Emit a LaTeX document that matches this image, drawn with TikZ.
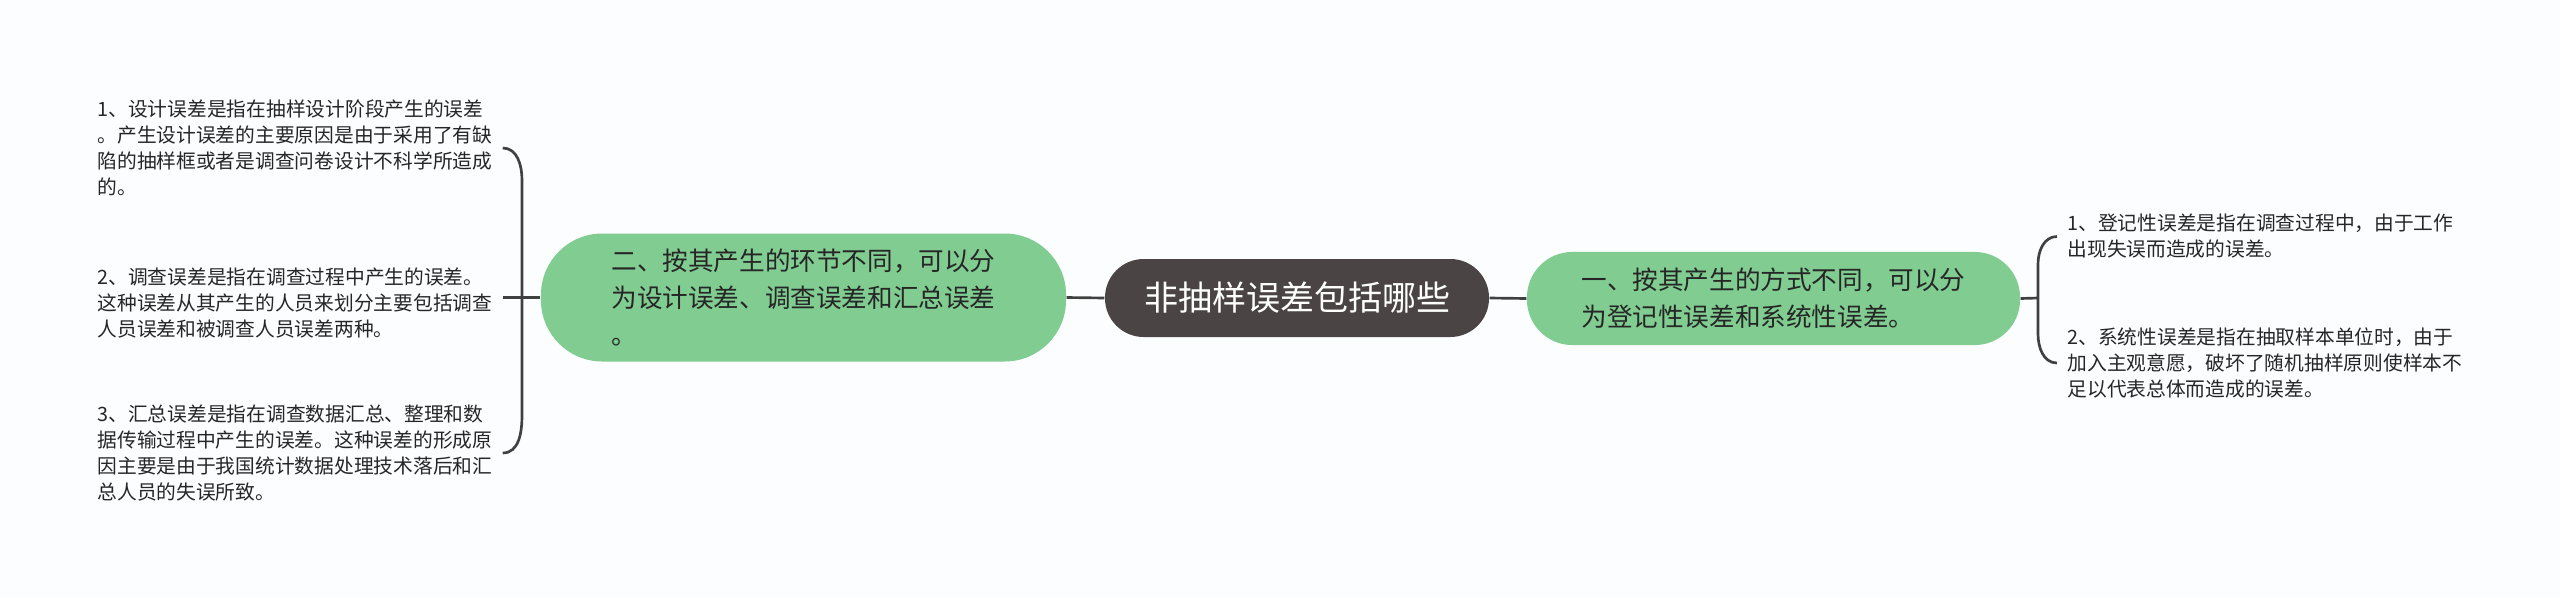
\documentclass[tikz,border=0pt]{standalone}
\usepackage{fontspec}
\usepackage{tikz}
\usepackage{xcolor}
\usetikzlibrary{positioning, calc}
\newfontfamily\cjk{Noto Sans CJK SC}

\definecolor{bgcol}{RGB}{251,253,254}
\definecolor{rootcol}{RGB}{74,68,68}
\definecolor{branchcol}{RGB}{128,204,145}
\definecolor{linecol}{RGB}{64,64,64}
\definecolor{textcol}{RGB}{38,38,38}

\begin{document}
\begin{tikzpicture}[
    x=0.375pt, y=-0.375pt,
    every node/.style={font=\cjk},
    root/.style={draw=none, fill=rootcol, text=white, rounded corners=14.5pt,
        minimum width=144pt, minimum height=29.25pt, align=center,
        font=\cjk\fontsize{12.75pt}{15pt}\selectfont},
    branch/.style={draw=none, fill=branchcol, text=textcol, align=left,
        font=\cjk\fontsize{9.6pt}{14pt}\selectfont},
    leaf/.style={anchor=west, inner xsep=3.75pt, inner ysep=0pt, text=textcol, align=left,
        font=\cjk\fontsize{7.4pt}{9.75pt}\selectfont},
    link/.style={draw=linecol, line width=1pt}
]
    % Background
    \fill[bgcol] (0,0) rectangle (2560,597);
    \useasboundingbox (0,0) rectangle (2560,597);

    % Root and branches
    \node[root] (root) at (1297,298) {非抽样误差包括哪些};
    \node[branch, minimum width=196.9pt, minimum height=48pt, rounded corners=23pt] (lbranch) at (803.5,297.5)
        {二、按其产生的环节不同，可以分\\为设计误差、调查误差和汇总误差\\。};
    \node[branch, minimum width=184.9pt, minimum height=34.9pt, rounded corners=17pt] (rbranch) at (1773.5,298.5)
        {一、按其产生的方式不同，可以分\\为登记性误差和系统性误差。};

    % Left leaves
    \node[leaf] (lleaf1) at (87,148) {1、设计误差是指在抽样设计阶段产生的误差\\。产生设计误差的主要原因是由于采用了有缺\\陷的抽样框或者是调查问卷设计不科学所造成\\的。};
    \node[leaf] (lleaf2) at (87,303) {2、调查误差是指在调查过程中产生的误差。\\这种误差从其产生的人员来划分主要包括调查\\人员误差和被调查人员误差两种。};
    \node[leaf] (lleaf3) at (87,453) {3、汇总误差是指在调查数据汇总、整理和数\\据传输过程中产生的误差。这种误差的形成原\\因主要是由于我国统计数据处理技术落后和汇\\总人员的失误所致。};

    % Right leaves
    \node[leaf] (rleaf1) at (2057,236.5) {1、登记性误差是指在调查过程中，由于工作\\出现失误而造成的误差。};
    \node[leaf] (rleaf2) at (2057,363) {2、系统性误差是指在抽取样本单位时，由于\\加入主观意愿，破坏了随机抽样原则使样本不\\足以代表总体而造成的误差。};

    % Brace spines
    \coordinate (lspine1) at (522,180);
    \coordinate (lspine2) at (522,415);
    \coordinate (rspine) at (2038,298);
    \coordinate (rspine1) at (2038,264);
    \coordinate (rspine2) at (2038,334);

    % Connectors
    \draw[link] (root.west) -- (lbranch.east);
    \draw[link] (root.east) -- (rbranch.west);
    \draw[link] (lbranch.west) -- (lbranch.west -| lleaf2.east);
    \draw[link] (lleaf1.east) to[out=0, in=90] (lspine1) -- (lspine2) to[out=-90, in=0] (lleaf3.east);
    \draw[link] (rbranch.east) -- (rspine);
    \draw[link] (rleaf1.west) to[out=180, in=90] (rspine1) -- (rspine2) to[out=-90, in=180] (rleaf2.west);

\end{tikzpicture}
\end{document}
